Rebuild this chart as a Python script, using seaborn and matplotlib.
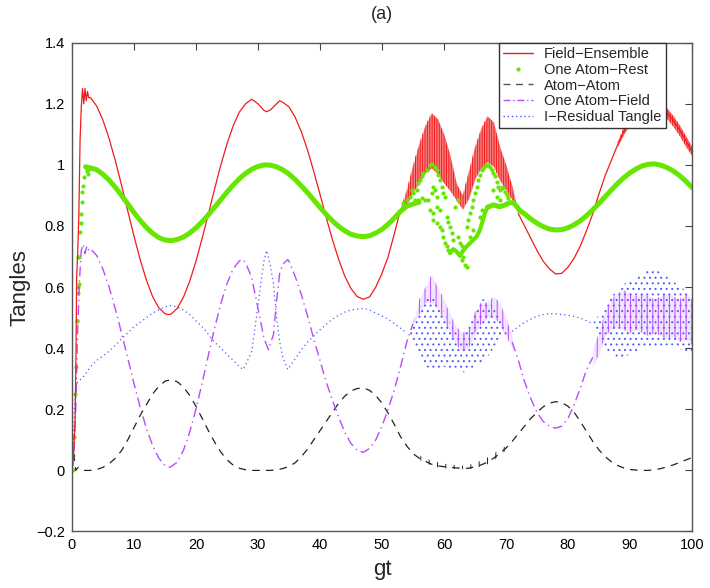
import numpy as np
import matplotlib
matplotlib.use("Agg")
import matplotlib.pyplot as plt
import seaborn as sns
from matplotlib.lines import Line2D
from matplotlib.ticker import FuncFormatter

sns.set_theme(style="white")
plt.rcParams["font.family"] = ["Liberation Sans", "DejaVu Sans"]
plt.rcParams["hatch.linewidth"] = 0.7

RED = "#f21a1a"
GREEN = "#66e600"
BLACK = "#222222"
PURPLE = "#b44dff"
BLUE = "#4a5cff"

# Field-Ensemble (smooth parts + noisy bands)
red_gt_a = [0, 0.25, 0.5, 0.65, 0.75, 0.9, 1.1, 1.3, 1.5, 1.7, 1.9, 2.1, 2.3, 2.5, 2.7, 3,
            4, 5, 6, 7, 8, 9, 10, 11, 12, 13, 14, 15, 15.5, 16, 17, 18,
            19, 20, 21, 22, 23, 24, 25, 26, 27, 28, 29, 30, 31, 31.4, 32, 33,
            33.5, 34, 35, 36, 37, 38, 39, 40, 41, 42, 43, 44, 45, 46, 47, 48,
            49, 50, 51, 52, 53]
red_a = [0, 0.05, 0.16, 0.39, 0.63, 0.70, 0.83, 1.08, 1.19, 1.25, 1.20, 1.25, 1.21, 1.24, 1.22, 1.22,
         1.192, 1.146, 1.085, 1.013, 0.933, 0.849, 0.767, 0.69, 0.623, 0.569, 0.532, 0.513, 0.51, 0.512, 0.531, 0.568,
         0.62, 0.685, 0.76, 0.84, 0.921, 0.999, 1.069, 1.128, 1.173, 1.20, 1.215, 1.20, 1.178, 1.174, 1.18, 1.2,
         1.21, 1.205, 1.19, 1.156, 1.108, 1.048, 0.978, 0.904, 0.828, 0.756, 0.691, 0.636, 0.595, 0.569, 0.56, 0.568,
         0.60, 0.645, 0.70, 0.775, 0.855]
red_band1_gt = [53, 54, 55, 56, 57, 58, 59, 60, 61, 62, 63, 64, 65, 66, 67, 68, 69, 70, 71, 72]
red_band1_hi = [0.855, 0.92, 1.00, 1.07, 1.13, 1.17, 1.15, 1.10, 1.03, 0.94, 0.90, 0.98, 1.06, 1.12, 1.16, 1.14, 1.06, 1.00, 0.93, 0.84]
red_band1_lo = [0.855, 0.87, 0.91, 0.94, 0.975, 0.99, 0.97, 0.94, 0.915, 0.885, 0.855, 0.89, 0.955, 0.99, 1.01, 0.995, 0.95, 0.92, 0.885, 0.84]
red_gt_c = [72, 73, 74, 75, 76, 77, 78, 79, 80, 81, 82, 83, 84, 85, 86, 87,
            88, 89, 90, 91, 92, 93, 94, 95, 96, 97, 98, 99, 100]
red_c = [0.84, 0.80, 0.76, 0.72, 0.685, 0.66, 0.643, 0.645, 0.665, 0.695, 0.735, 0.785, 0.84, 0.905, 0.965, 1.015,
         1.065, 1.11, 1.147, 1.178, 1.2, 1.21, 1.205, 1.19, 1.17, 1.145, 1.115, 1.08, 1.045]
red_band2_gt = [88, 89, 90, 91, 92, 93, 94, 95, 96, 97, 98, 99, 100]
red_band2_hi = [1.075, 1.125, 1.165, 1.195, 1.215, 1.225, 1.22, 1.205, 1.185, 1.16, 1.13, 1.095, 1.06]
red_band2_lo = [1.06, 1.10, 1.13, 1.16, 1.18, 1.19, 1.185, 1.17, 1.15, 1.125, 1.095, 1.06, 1.03]

# One Atom-Rest (dense dots that merge into a thick track)
green_dots_start_gt = [0.1, 0.2, 0.38, 0.48, 0.65, 0.75, 0.86, 0.91, 1.02, 1.02, 1.13, 1.18,
                       1.29, 1.4, 1.5, 1.61, 1.66, 1.82, 1.94, 2.2, 2.4, 2.6, 2.8]
green_dots_start = [0.0, 0.05, 0.11, 0.25, 0.34, 0.49, 0.49, 0.6, 0.58, 0.70, 0.70, 0.61,
                    0.78, 0.81, 0.84, 0.88, 0.91, 0.93, 0.96, 0.99, 0.98, 0.97, 0.985]
green_gt_a = [2.2, 3, 4, 5, 6, 7, 8, 9, 10, 11, 12, 13, 14, 15, 16, 17,
              18, 19, 20, 21, 22, 23, 24, 25, 26, 27, 28, 29, 30, 31, 32, 33,
              34, 35, 36, 37, 38, 39, 40, 41, 42, 43, 44, 45, 46, 47, 48, 49,
              50, 51, 52, 53, 54, 55, 56]
green_a = [0.994, 0.99, 0.984, 0.969, 0.95, 0.926, 0.90, 0.872, 0.844, 0.818, 0.795, 0.776, 0.762, 0.754, 0.752, 0.756,
           0.764, 0.777, 0.794, 0.814, 0.837, 0.861, 0.886, 0.911, 0.934, 0.955, 0.972, 0.986, 0.995, 1.0, 0.999, 0.994,
           0.984, 0.97, 0.952, 0.931, 0.909, 0.885, 0.861, 0.838, 0.817, 0.799, 0.784, 0.773, 0.767, 0.765, 0.768, 0.777,
           0.789, 0.806, 0.826, 0.848, 0.865, 0.872, 0.878]
green_gt_b = [60.96, 61.5, 62.04, 62.58, 63.11, 63.65, 64.46, 65.26, 65.8, 66.2, 66.6, 67.0]
green_b = [0.711, 0.724, 0.716, 0.702, 0.72, 0.733, 0.749, 0.765, 0.787, 0.814, 0.842, 0.861]
green_gt_c = [67.0, 67.95, 69.03, 69.83, 70.64, 71.18, 71.7, 72.25, 73.06, 73.87, 75, 76, 77, 78, 79, 80,
              81, 82, 83, 84, 85, 86, 87, 88, 89, 90, 91, 92, 93, 94, 95, 96,
              97, 98, 99, 100]
green_c = [0.861, 0.869, 0.863, 0.869, 0.876, 0.876, 0.865, 0.85, 0.839, 0.825, 0.809, 0.798, 0.79, 0.787, 0.788, 0.794,
           0.804, 0.817, 0.834, 0.853, 0.874, 0.896, 0.918, 0.939, 0.958, 0.974, 0.987, 0.997, 1.002, 1.003, 0.999, 0.991,
           0.98, 0.965, 0.947, 0.926]
green_scatter_gt = [53.44, 53.98, 54.51, 54.78, 55.05, 55.59, 55.86, 56.13, 56.39, 56.66, 57.20, 57.74, 58.01, 58.54, 58.81, 59.08,
                    59.35, 59.62, 59.89, 60.16, 55.32, 55.86, 56.39, 56.93, 57.47, 58.01, 58.28, 58.54, 58.81, 57.74, 58.28, 58.81,
                    59.35, 58.28, 58.81, 59.35, 59.62, 59.89, 60.16, 60.43, 60.70, 60.43, 60.70, 60.96, 61.23, 61.50, 62.31, 62.58,
                    62.85, 63.11, 62.85, 63.38, 63.65, 63.65, 63.92, 64.19, 64.46, 64.73, 65.0, 65.26, 65.53, 65.80, 66.07, 66.34,
                    66.61, 66.88, 67.15, 67.42, 67.68, 67.95, 68.22, 68.49, 68.76, 69.03, 69.30, 69.57, 69.83, 70.10, 70.37, 70.64,
                    67.95, 68.49, 69.03, 65.80, 66.07, 64.19, 64.73, 61.77, 62.31]
green_scatter = [0.874, 0.885, 0.896, 0.918, 0.907, 0.918, 0.94, 0.951, 0.962, 0.973, 0.983, 1.0, 1.003, 0.994, 0.983, 0.967,
                 0.951, 0.929, 0.907, 0.896, 0.885, 0.885, 0.891, 0.885, 0.885, 0.907, 0.929, 0.918, 0.896, 0.852, 0.842, 0.863,
                 0.852, 0.82, 0.809, 0.798, 0.787, 0.765, 0.743, 0.733, 0.722, 0.831, 0.814, 0.798, 0.776, 0.754, 0.765, 0.743,
                 0.733, 0.70, 0.689, 0.673, 0.667, 0.798, 0.82, 0.842, 0.863, 0.885, 0.907, 0.929, 0.951, 0.967, 0.983, 0.989,
                 0.996, 1.0, 1.0, 0.994, 0.983, 0.973, 0.962, 0.945, 0.929, 0.918, 0.929, 0.923, 0.912, 0.902, 0.891, 0.88,
                 0.918, 0.896, 0.885, 0.831, 0.852, 0.765, 0.787, 0.863, 0.885]

# Atom-Atom
black_gt = [0, 0.3, 0.6, 1] + list(range(2, 101))
black = [0, 0.05, 0.0, 0.01, 0.0, 0.0, 0.003, 0.01, 0.022, 0.04, 0.065, 0.10, 0.14, 0.18, 0.215, 0.25,
         0.275, 0.292, 0.297, 0.29, 0.272, 0.245, 0.21, 0.17, 0.13, 0.093, 0.06, 0.035, 0.017, 0.007, 0.002, 0.0,
         0.0, 0.0, 0.0, 0.002, 0.006, 0.013, 0.025, 0.045, 0.07, 0.10, 0.13, 0.16, 0.19, 0.22, 0.243, 0.26,
         0.268, 0.27, 0.262, 0.245, 0.22, 0.187, 0.15, 0.11, 0.08, 0.055, 0.04, 0.03, 0.02, 0.015, 0.012, 0.01,
         0.008, 0.007, 0.007, 0.012, 0.018, 0.027, 0.04, 0.055, 0.073, 0.095, 0.12, 0.145, 0.17, 0.19, 0.208, 0.22,
         0.225, 0.222, 0.21, 0.19, 0.16, 0.127, 0.095, 0.067, 0.045, 0.028, 0.016, 0.008, 0.003, 0.001, 0.0, 0.0,
         0.002, 0.006, 0.012, 0.018, 0.026, 0.034, 0.042]
black_band_gt = [55, 56, 57, 58, 59, 60, 61, 62, 63, 64, 65, 66, 67, 68, 69, 70]
black_band_hi = [0.06, 0.05, 0.04, 0.032, 0.027, 0.022, 0.02, 0.017, 0.015, 0.017, 0.025, 0.032, 0.042, 0.055, 0.068, 0.08]
black_band_lo = [0.05, 0.035, 0.025, 0.015, 0.01, 0.007, 0.005, 0.004, 0.004, 0.004, 0.007, 0.012, 0.02, 0.032, 0.046, 0.066]

# One Atom-Field
purple_gt_a = [0, 0.3, 0.6, 0.9, 1.2, 1.5, 1.8, 2.1, 2.4, 2.7, 3, 4, 5, 6, 7, 8,
               9, 10, 11, 12, 13, 14, 15, 15.8, 17, 18, 19, 20, 21, 22, 23, 24,
               25, 26, 27, 27.6, 28, 29, 30, 30.5, 31, 31.7, 32.5, 33, 33.5, 34, 34.8, 35,
               36, 37, 38, 39, 40, 41, 42, 43, 44, 45, 46, 47, 48, 49, 50, 51,
               52, 53, 54, 55]
purple_a = [0, 0.05, 0.2, 0.45, 0.62, 0.72, 0.74, 0.71, 0.735, 0.72, 0.725, 0.703, 0.658, 0.599, 0.528, 0.449,
            0.367, 0.284, 0.207, 0.138, 0.082, 0.04, 0.016, 0.01, 0.027, 0.067, 0.126, 0.201, 0.287, 0.377, 0.465, 0.546,
            0.611, 0.66, 0.686, 0.69, 0.68, 0.63, 0.53, 0.48, 0.43, 0.395, 0.445, 0.555, 0.645, 0.675, 0.69, 0.685,
            0.635, 0.575, 0.505, 0.43, 0.36, 0.29, 0.23, 0.175, 0.125, 0.088, 0.066, 0.059, 0.072, 0.10, 0.145, 0.20,
            0.265, 0.34, 0.42, 0.48]
purple_band1_gt = [55, 56, 57, 58, 59, 60, 61, 62, 63, 64, 65, 66, 67, 68, 69, 70, 71]
purple_band1_hi = [0.48, 0.56, 0.60, 0.64, 0.60, 0.56, 0.51, 0.47, 0.45, 0.46, 0.52, 0.55, 0.55, 0.57, 0.55, 0.50, 0.44]
purple_band1_lo = [0.48, 0.51, 0.55, 0.55, 0.53, 0.49, 0.45, 0.41, 0.39, 0.40, 0.45, 0.48, 0.50, 0.50, 0.48, 0.44, 0.40]
purple_gt_c = [71, 72, 73, 74, 75, 76, 77, 78, 79, 80, 81, 82, 83, 84]
purple_c = [0.42, 0.36, 0.29, 0.235, 0.19, 0.16, 0.145, 0.138, 0.145, 0.17, 0.215, 0.27, 0.33, 0.37]
purple_band2_gt = [84, 85, 86, 87, 88, 89, 90, 91, 92, 93, 94, 95, 96, 97, 98, 99, 100]
purple_band2_hi = [0.40, 0.45, 0.52, 0.56, 0.58, 0.59, 0.58, 0.57, 0.58, 0.57, 0.56, 0.57, 0.58, 0.57, 0.56, 0.58, 0.56]
purple_band2_lo = [0.34, 0.38, 0.44, 0.46, 0.47, 0.46, 0.45, 0.46, 0.45, 0.44, 0.45, 0.44, 0.43, 0.44, 0.42, 0.43, 0.41]

# I-Residual Tangle
blue_gt_a = [0, 0.3, 0.5, 0.8, 1, 2, 3, 4, 5, 6, 7, 8, 9, 10, 11, 12,
             13, 14, 15, 16, 17, 18, 19, 20, 21, 22, 23, 24, 25, 26, 27, 27.6,
             28, 29, 30, 30.5, 31, 31.4, 32, 32.5, 33, 33.5, 34, 34.8, 35.5, 36, 37, 38,
             39, 40, 41, 42, 43, 44, 45, 46, 47, 48, 49, 50, 51, 52, 53, 54]
blue_a = [0, 0.15, 0.25, 0.285, 0.29, 0.31, 0.34, 0.36, 0.375, 0.39, 0.41, 0.43, 0.45, 0.47, 0.485, 0.50,
          0.515, 0.525, 0.535, 0.54, 0.535, 0.525, 0.51, 0.49, 0.47, 0.445, 0.42, 0.40, 0.38, 0.36, 0.34, 0.33,
          0.345, 0.39, 0.54, 0.62, 0.69, 0.72, 0.67, 0.61, 0.50, 0.42, 0.37, 0.33, 0.35, 0.365, 0.395, 0.42,
          0.44, 0.46, 0.478, 0.495, 0.508, 0.518, 0.525, 0.528, 0.53, 0.525, 0.515, 0.505, 0.495, 0.48, 0.465, 0.45]
blue_band1_gt = [54, 55, 56, 57, 58, 59, 60, 61, 62, 63, 64, 65, 66, 67, 68, 69, 70, 71]
blue_band1_hi = [0.45, 0.48, 0.53, 0.56, 0.57, 0.55, 0.52, 0.48, 0.45, 0.44, 0.47, 0.52, 0.56, 0.56, 0.53, 0.50, 0.47, 0.455]
blue_band1_lo = [0.45, 0.42, 0.37, 0.34, 0.33, 0.33, 0.34, 0.33, 0.33, 0.32, 0.33, 0.34, 0.35, 0.37, 0.40, 0.43, 0.44, 0.455]
blue_gt_c = [71, 72, 73, 74, 75, 76, 77, 78, 79, 80, 81, 82, 83, 84]
blue_c = [0.455, 0.47, 0.485, 0.495, 0.505, 0.51, 0.513, 0.513, 0.51, 0.508, 0.504, 0.498, 0.49, 0.48]
blue_band2_gt = [84, 85, 86, 87, 88, 89, 90, 91, 92, 93, 94, 95, 96, 97, 98, 99, 100]
blue_band2_hi = [0.48, 0.51, 0.54, 0.57, 0.59, 0.61, 0.62, 0.63, 0.645, 0.655, 0.655, 0.65, 0.64, 0.62, 0.60, 0.59, 0.57]
blue_band2_lo = [0.48, 0.43, 0.40, 0.38, 0.37, 0.37, 0.38, 0.39, 0.40, 0.40, 0.40, 0.40, 0.41, 0.41, 0.40, 0.38, 0.38]

labels = ["Field\u2212Ensemble", "One Atom\u2212Rest", "Atom\u2212Atom",
          "One Atom\u2212Field", "I\u2212Residual Tangle"]

fig = plt.figure(figsize=(7.1, 5.88), dpi=100)
ax = fig.add_axes([0.1014, 0.0961, 0.8732, 0.8313])


def line(x, y, **kw):
    sns.lineplot(x=x, y=y, ax=ax, sort=False, estimator=None, **kw)


def band(x, lo, hi, color, hatch, alpha):
    if alpha > 0:
        ax.fill_between(x, lo, hi, facecolor=color, alpha=alpha, linewidth=0)
    ax.fill_between(x, lo, hi, facecolor="none", edgecolor=color, hatch=hatch, linewidth=0)


# blue dotted
line(blue_gt_a, blue_a, color=BLUE, linestyle=(0, (1, 2.5)), linewidth=0.9)
line(blue_gt_c, blue_c, color=BLUE, linestyle=(0, (1, 2.5)), linewidth=0.9)
band(blue_band1_gt, blue_band1_lo, blue_band1_hi, BLUE, "...", 0)
band(blue_band2_gt, blue_band2_lo, blue_band2_hi, BLUE, "...", 0)

# black dashed
line(black_gt, black, color=BLACK, linestyle=(0, (6, 5)), linewidth=0.9)
band(black_band_gt, black_band_lo, black_band_hi, BLACK, "||", 0)

# purple dash-dot
pstyle = (0, (7, 3, 1, 3))
line(purple_gt_a, purple_a, color=PURPLE, linestyle=pstyle, linewidth=1.0)
line(purple_gt_c, purple_c, color=PURPLE, linestyle=pstyle, linewidth=1.0)
band(purple_band1_gt, purple_band1_lo, purple_band1_hi, PURPLE, "|||", 0.15)
band(purple_band2_gt, purple_band2_lo, purple_band2_hi, PURPLE, "|||", 0.15)

# red
line(red_gt_a, red_a, color=RED, linewidth=0.9)
line(red_gt_c, red_c, color=RED, linewidth=0.9)
band(red_band1_gt, red_band1_lo, red_band1_hi, RED, "|||||||", 0.55)
band(red_band2_gt, red_band2_lo, red_band2_hi, RED, "|||||||", 0.55)

# green
line(green_gt_a, green_a, color=GREEN, linewidth=3.6, solid_capstyle="round")
line(green_gt_b, green_b, color=GREEN, linewidth=3.0, solid_capstyle="round")
line(green_gt_c, green_c, color=GREEN, linewidth=3.6, solid_capstyle="round")
sns.scatterplot(x=green_dots_start_gt, y=green_dots_start, ax=ax, color=GREEN, s=9, linewidth=0)
sns.scatterplot(x=green_scatter_gt, y=green_scatter, ax=ax, color=GREEN, s=9, linewidth=0)

ax.set_xlim(0, 100)
ax.set_ylim(-0.2, 1.4)
ax.set_xticks(np.arange(0, 101, 10))
ax.set_yticks(np.arange(-0.2, 1.41, 0.2))
ax.yaxis.set_major_formatter(FuncFormatter(lambda v, _: f"{round(v, 2):g}".replace("-", "\u2212")))
ax.tick_params(direction="in", top=True, right=True, length=5, width=0.8,
               labelsize=10.5, color="#444444", labelcolor="black", pad=5)
for s in ax.spines.values():
    s.set_color("#555555")
    s.set_linewidth(1.0)

ax.set_xlabel("gt", fontsize=16, labelpad=5)
ax.set_ylabel("Tangles", fontsize=16, labelpad=4)
ax.set_title("(a)", fontsize=13, pad=17)

handles = [
    Line2D([], [], color=RED, linewidth=1.0),
    Line2D([], [], color=GREEN, marker=".", linestyle="none", markersize=4),
    Line2D([], [], color="#555555", linestyle=(0, (5, 4)), linewidth=1.0),
    Line2D([], [], color=PURPLE, linestyle=(0, (5, 2, 1, 2)), linewidth=1.0),
    Line2D([], [], color=BLUE, linestyle=(0, (1, 2)), linewidth=1.0),
]
leg = ax.legend(handles, labels, loc="upper right", bbox_to_anchor=(0.958, 1.0),
                borderaxespad=0, fancybox=False, framealpha=1, edgecolor="#333333",
                fontsize=10.5, handlelength=2.0, labelspacing=0.12, borderpad=0.3,
                handletextpad=0.8)
leg.get_frame().set_linewidth(1.0)

fig.savefig("out.png", dpi=100)
